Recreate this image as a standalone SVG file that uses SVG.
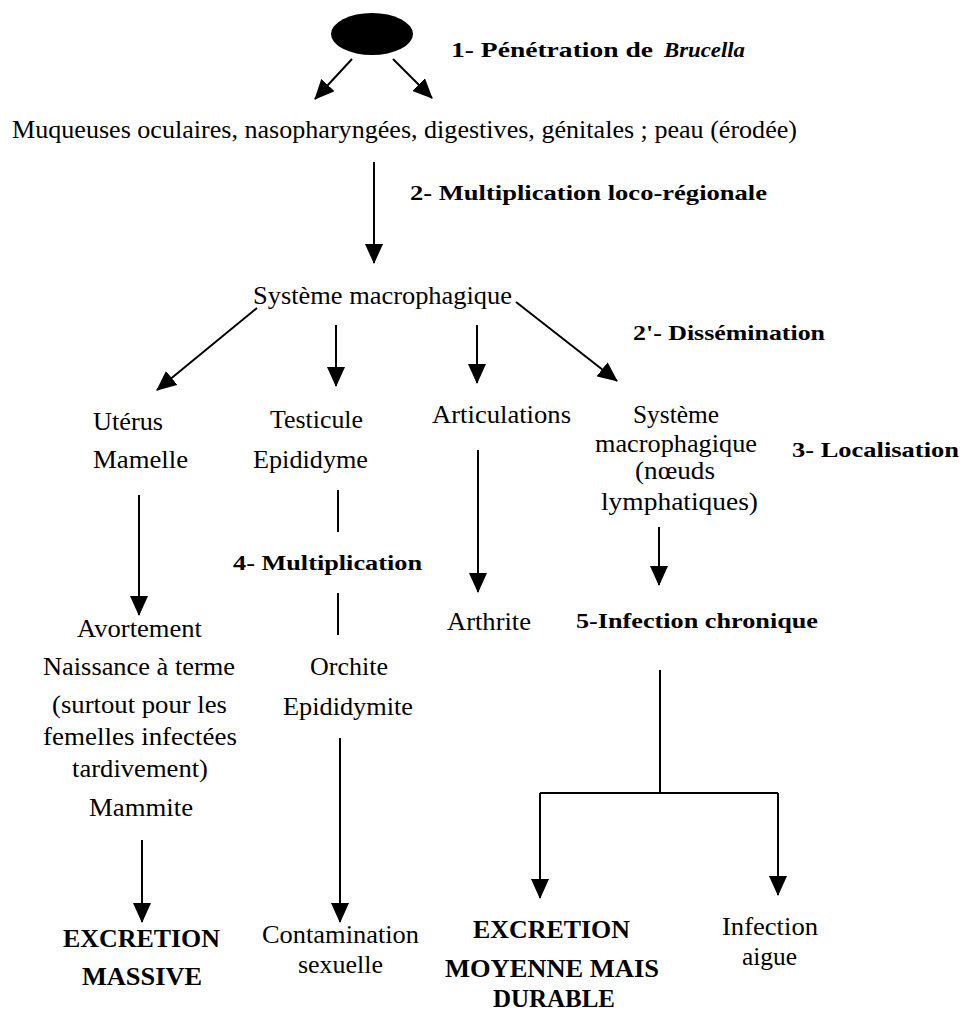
<svg xmlns="http://www.w3.org/2000/svg" width="962" height="1012" viewBox="0 0 962 1012">
<defs>
<style>
text{font-family:"Liberation Serif","Times New Roman",serif;fill:#000}
.r{font-size:26px}
.b{font-size:22px;font-weight:bold}
.B{font-size:26px;font-weight:bold}
.c{stroke:#000;stroke-width:2;fill:none}
.a{marker-end:url(#ah)}
</style>
<marker id="ah" markerUnits="userSpaceOnUse" markerWidth="20" markerHeight="18" refX="19" refY="9" orient="auto">
<path d="M0,0 L20,9 L0,18 z" fill="#000"/>
</marker>
</defs>
<rect width="962" height="1012" fill="#fff"/>

<g id="connectors">
<line class="c a" x1="352" y1="59" x2="315" y2="99"/>
<line class="c a" x1="393" y1="59" x2="432" y2="98"/>
<line class="c a" x1="374" y1="162" x2="374" y2="263"/>
<line class="c a" x1="257" y1="308" x2="157" y2="390"/>
<line class="c a" x1="336" y1="325" x2="336" y2="386"/>
<line class="c a" x1="477" y1="325" x2="477" y2="383"/>
<line class="c a" x1="516" y1="302" x2="617" y2="381"/>
<line class="c a" x1="139" y1="495" x2="139" y2="615"/>
<line class="c" x1="338" y1="490" x2="338" y2="532"/>
<line class="c" x1="338" y1="593" x2="338" y2="635"/>
<line class="c a" x1="478" y1="450" x2="478" y2="592"/>
<line class="c a" x1="659" y1="527" x2="659" y2="585"/>
<line class="c a" x1="142" y1="840" x2="142" y2="922"/>
<line class="c a" x1="340" y1="738" x2="340" y2="922"/>
<polyline class="c" points="660,670 660,793"/>
<polyline class="c a" points="540,793 540,898"/>
<polyline class="c" points="540,793 778,793"/>
<polyline class="c a" points="778,793 778,895"/>
</g>

<g id="n-brucella">
<ellipse cx="372" cy="34" rx="41" ry="21" fill="#000"/>
</g>
<g id="l-penetration">
<text class="b" x="451" y="57" textLength="202" lengthAdjust="spacingAndGlyphs">1- Pénétration de</text>
<text class="b" x="664" y="57" font-style="italic" textLength="81" lengthAdjust="spacingAndGlyphs">Brucella</text>
</g>
<g id="n-muqueuses">
<text class="r" x="12" y="138" textLength="785" lengthAdjust="spacingAndGlyphs">Muqueuses oculaires, nasopharyngées, digestives, génitales ; peau (érodée)</text>
</g>
<g id="l-multiplication-loco">
<text class="b" x="410" y="200" textLength="357" lengthAdjust="spacingAndGlyphs">2- Multiplication loco-régionale</text>
</g>
<g id="n-systeme">
<text class="r" x="253" y="304" textLength="259" lengthAdjust="spacingAndGlyphs">Système macrophagique</text>
</g>
<g id="l-dissemination">
<text class="b" x="633" y="340" textLength="192" lengthAdjust="spacingAndGlyphs">2'- Dissémination</text>
</g>
<g id="n-uterus">
<text class="r" x="93" y="430" textLength="70" lengthAdjust="spacingAndGlyphs">Utérus</text>
<text class="r" x="93" y="468" textLength="95" lengthAdjust="spacingAndGlyphs">Mamelle</text>
</g>
<g id="n-testicule">
<text class="r" x="270" y="428" textLength="93" lengthAdjust="spacingAndGlyphs">Testicule</text>
<text class="r" x="253" y="468" textLength="115" lengthAdjust="spacingAndGlyphs">Epididyme</text>
</g>
<g id="n-articulations">
<text class="r" x="432" y="423" textLength="139" lengthAdjust="spacingAndGlyphs">Articulations</text>
</g>
<g id="n-systeme-ganglions">
<text class="r" x="633" y="423" textLength="86" lengthAdjust="spacingAndGlyphs">Système</text>
<text class="r" x="595" y="452" textLength="162" lengthAdjust="spacingAndGlyphs">macrophagique</text>
<text class="r" x="635" y="479" textLength="80" lengthAdjust="spacingAndGlyphs">(nœuds</text>
<text class="r" x="601" y="510" textLength="157" lengthAdjust="spacingAndGlyphs">lymphatiques)</text>
</g>
<g id="l-localisation">
<text class="b" x="792" y="457" textLength="167" lengthAdjust="spacingAndGlyphs">3- Localisation</text>
</g>
<g id="l-multiplication">
<text class="b" x="233" y="570" textLength="189" lengthAdjust="spacingAndGlyphs">4- Multiplication</text>
</g>
<g id="n-arthrite">
<text class="r" x="447" y="630" textLength="84" lengthAdjust="spacingAndGlyphs">Arthrite</text>
</g>
<g id="n-infection-chronique">
<text class="b" x="576" y="628" textLength="242" lengthAdjust="spacingAndGlyphs">5-Infection chronique</text>
</g>
<g id="n-avortement">
<text class="r" x="77" y="637" textLength="125" lengthAdjust="spacingAndGlyphs">Avortement</text>
<text class="r" x="43" y="675" textLength="192" lengthAdjust="spacingAndGlyphs">Naissance à terme</text>
<text class="r" x="52" y="713" textLength="175" lengthAdjust="spacingAndGlyphs">(surtout pour les</text>
<text class="r" x="43" y="745" textLength="194" lengthAdjust="spacingAndGlyphs">femelles infectées</text>
<text class="r" x="72" y="777" textLength="136" lengthAdjust="spacingAndGlyphs">tardivement)</text>
<text class="r" x="89" y="816" textLength="104" lengthAdjust="spacingAndGlyphs">Mammite</text>
</g>
<g id="n-orchite">
<text class="r" x="310" y="675" textLength="78" lengthAdjust="spacingAndGlyphs">Orchite</text>
<text class="r" x="283" y="715" textLength="130" lengthAdjust="spacingAndGlyphs">Epididymite</text>
</g>
<g id="n-excretion-massive">
<text class="B" x="63" y="947" textLength="157" lengthAdjust="spacingAndGlyphs">EXCRETION</text>
<text class="B" x="82" y="985" textLength="120" lengthAdjust="spacingAndGlyphs">MASSIVE</text>
</g>
<g id="n-contamination">
<text class="r" x="262" y="943" textLength="157" lengthAdjust="spacingAndGlyphs">Contamination</text>
<text class="r" x="298" y="973" textLength="85" lengthAdjust="spacingAndGlyphs">sexuelle</text>
</g>
<g id="n-excretion-moyenne">
<text class="B" x="473" y="938" textLength="157" lengthAdjust="spacingAndGlyphs">EXCRETION</text>
<text class="B" x="445" y="977" textLength="214" lengthAdjust="spacingAndGlyphs">MOYENNE MAIS</text>
<text class="B" x="493" y="1007" textLength="122" lengthAdjust="spacingAndGlyphs">DURABLE</text>
</g>
<g id="n-infection-aigue">
<text class="r" x="722" y="935" textLength="96" lengthAdjust="spacingAndGlyphs">Infection</text>
<text class="r" x="742" y="965" textLength="55" lengthAdjust="spacingAndGlyphs">aigue</text>
</g>
</svg>
